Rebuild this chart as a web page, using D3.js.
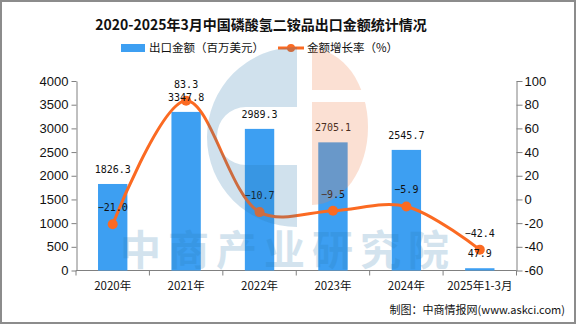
<!DOCTYPE html>
<html>
<head>
<meta charset="utf-8">
<script src="https://cdn.jsdelivr.net/npm/d3@7/dist/d3.min.js"></script>
<style>
  html, body { margin: 0; padding: 0; background: #fff; }
  svg { display: block; }
  .cjk { font-family: "Noto Sans CJK SC", "Liberation Sans", sans-serif; }
  .tick-label { font-family: "Liberation Sans", Arial, sans-serif; font-size: 13px; fill: #111; }
  .value-label { font-family: "DejaVu Sans Mono", monospace; font-size: 10px; fill: #111; }
</style>
</head>
<body>
<div id="chart"></div>
<script>
// ── Data ──────────────────────────────────────────────────────────────────
const categories  = ["2020年", "2021年", "2022年", "2023年", "2024年", "2025年1-3月"];
const exportValue = [1826.3, 3347.8, 2989.3, 2705.1, 2545.7, 47.9];   // 百万美元
const growthRate  = [-21.0, 83.3, -10.7, -9.5, -5.9, -42.4];           // %
const leftTicks   = [0, 500, 1000, 1500, 2000, 2500, 3000, 3500, 4000];
const rightTicks  = [-60, -40, -20, 0, 20, 40, 60, 80, 100];

const BAR_COLOR  = "#3d9ff2";
const LINE_COLOR = "#fb6a22";
const AXIS_COLOR = "#808080";

// ── Layout ────────────────────────────────────────────────────────────────
const totalW = 576, totalH = 324;
const plot = { left: 76, right: 516.5, top: 81, bottom: 270.5 };

const svg = d3.select("#chart").append("svg")
  .attr("width", totalW)
  .attr("height", totalH);

// ── Scales ────────────────────────────────────────────────────────────────
const x = d3.scaleBand()
  .domain(categories)
  .range([plot.left, plot.right]);

const yL = d3.scaleLinear().domain([0, 4000]).range([plot.bottom, plot.top]);
const yR = d3.scaleLinear().domain([-60, 100]).range([plot.bottom, plot.top]);

const bw = x.bandwidth() * 0.4;
const cx = c => x(c) + x.bandwidth() / 2;
const fmt = d3.format(".1f");

// ── Title & legend ────────────────────────────────────────────────────────
svg.append("text")
  .attr("class", "cjk")
  .attr("x", 261).attr("y", 30)
  .attr("text-anchor", "middle")
  .attr("font-size", 14).attr("font-weight", 700)
  .attr("fill", "#111")
  .text("2020-2025年3月中国磷酸氢二铵品出口金额统计情况");

const legend = svg.append("g").attr("class", "cjk").attr("font-size", 11.5).attr("fill", "#111");
legend.append("rect")
  .attr("x", 121).attr("y", 44).attr("width", 24).attr("height", 8)
  .attr("fill", BAR_COLOR);
legend.append("text").attr("x", 149).attr("y", 52).text("出口金额（百万美元）");
legend.append("line")
  .attr("x1", 278).attr("x2", 304).attr("y1", 48).attr("y2", 48)
  .attr("stroke", LINE_COLOR).attr("stroke-width", 3);
legend.append("circle").attr("cx", 291).attr("cy", 48).attr("r", 4).attr("fill", LINE_COLOR);
legend.append("text").attr("x", 307).attr("y", 52).text("金额增长率（%）");

// ── Axes ──────────────────────────────────────────────────────────────────
const leftAxis = svg.append("g")
  .attr("transform", `translate(${plot.left + 0.5},0)`)
  .call(d3.axisLeft(yL).tickValues(leftTicks).tickSize(5).tickSizeOuter(0).tickPadding(3)
    .tickFormat(d => d));

const rightAxis = svg.append("g")
  .attr("transform", `translate(${plot.right},0)`)
  .call(d3.axisRight(yR).tickValues(rightTicks).tickSize(6).tickSizeOuter(0).tickPadding(2)
    .tickFormat(d => d));

[leftAxis, rightAxis].forEach(a => {
  a.select(".domain").attr("stroke", AXIS_COLOR);
  a.selectAll(".tick line").attr("stroke", AXIS_COLOR);
  a.selectAll(".tick text").attr("class", "tick-label").attr("fill", "#111");
});

// category axis: ticks sit on the band boundaries, labels in the middle
const xAxis = svg.append("g");
xAxis.append("line")
  .attr("x1", plot.left).attr("x2", plot.right)
  .attr("y1", plot.bottom).attr("y2", plot.bottom)
  .attr("stroke", AXIS_COLOR);
xAxis.selectAll(".xt")
  .data([...categories.map(c => x(c)), plot.right])
  .join("line")
  .attr("x1", d => d).attr("x2", d => d)
  .attr("y1", plot.bottom).attr("y2", plot.bottom + 5)
  .attr("stroke", AXIS_COLOR);
xAxis.selectAll(".xl")
  .data(categories)
  .join("text")
  .attr("class", "cjk")
  .attr("x", d => cx(d)).attr("y", 290)
  .attr("text-anchor", "middle")
  .attr("font-size", 11.5).attr("fill", "#111")
  .text(d => d);

// ── Bars ──────────────────────────────────────────────────────────────────
svg.append("g").selectAll("rect")
  .data(categories)
  .join("rect")
  .attr("x", d => cx(d) - bw / 2)
  .attr("width", bw)
  .attr("y", (d, i) => yL(exportValue[i]))
  .attr("height", (d, i) => plot.bottom - yL(exportValue[i]))
  .attr("fill", BAR_COLOR);

// ── Growth line ───────────────────────────────────────────────────────────
const line = d3.line()
  .x((d, i) => cx(categories[i]))
  .y(d => yR(d))
  .curve(d3.curveCatmullRom.alpha(0.5));

svg.append("path")
  .datum(growthRate)
  .attr("d", line)
  .attr("fill", "none")
  .attr("stroke", LINE_COLOR)
  .attr("stroke-width", 3);

svg.append("g").selectAll("circle")
  .data(growthRate)
  .join("circle")
  .attr("cx", (d, i) => cx(categories[i]))
  .attr("cy", d => yR(d))
  .attr("r", 5)
  .attr("fill", LINE_COLOR);

// ── Value labels ──────────────────────────────────────────────────────────
svg.append("g").selectAll("text")
  .data(exportValue)
  .join("text")
  .attr("class", "value-label")
  .attr("x", (d, i) => cx(categories[i]))
  .attr("y", d => yL(d) - 11)
  .attr("text-anchor", "middle")
  .text(d => fmt(d));

svg.append("g").selectAll("text")
  .data(growthRate)
  .join("text")
  .attr("class", "value-label")
  .attr("x", (d, i) => cx(categories[i]))
  .attr("y", d => yR(d) - 13)
  .attr("text-anchor", "middle")
  .text(d => fmt(d));

// ── Watermark (drawn over everything, semi-transparent) ───────────────────
const wm = svg.append("g").attr("pointer-events", "none");

// blue left half with a rounded horizontal slot
const bluePath = d3.path();
bluePath.moveTo(297, 47);
bluePath.arc(297, 137, 90, -Math.PI / 2, Math.PI / 2, true);
bluePath.closePath();
bluePath.moveTo(297, 107);
bluePath.lineTo(246, 107);
bluePath.arc(246, 136, 29, -Math.PI / 2, Math.PI / 2, true);
bluePath.lineTo(297, 165);
bluePath.closePath();
wm.append("path")
  .attr("d", bluePath.toString())
  .attr("fill-rule", "evenodd")
  .attr("fill", "rgb(40,120,175)")
  .attr("opacity", 0.22);

// peach right half, split by a thin white band
wm.append("clipPath").attr("id", "peach-clip")
  .append("path")
  .attr("d", "M312,40H380V90H312Z M312,102H380V220H312Z");
wm.append("ellipse")
  .attr("cx", 312).attr("cy", 127).attr("rx", 56).attr("ry", 78)
  .attr("clip-path", "url(#peach-clip)")
  .attr("fill", "rgb(240,130,80)")
  .attr("opacity", 0.25);

wm.append("text")
  .attr("class", "cjk")
  .attr("x", 288).attr("y", 265)
  .attr("text-anchor", "middle")
  .attr("font-size", 41).attr("font-weight", 700)
  .attr("letter-spacing", 7)
  .attr("fill", "rgb(40,120,175)")
  .attr("opacity", 0.2)
  .text("中商产业研究院");

// ── Footer & frame ────────────────────────────────────────────────────────
svg.append("text")
  .attr("class", "cjk")
  .attr("x", 565).attr("y", 314)
  .attr("text-anchor", "end")
  .attr("font-size", 11).attr("fill", "#111")
  .text("制图：中商情报网(www.askci.com)");

svg.append("rect")
  .attr("x", 1).attr("y", 1)
  .attr("width", totalW - 2).attr("height", totalH - 2)
  .attr("fill", "none")
  .attr("stroke", "#8c8c8c")
  .attr("stroke-width", 2);
</script>
</body>
</html>
